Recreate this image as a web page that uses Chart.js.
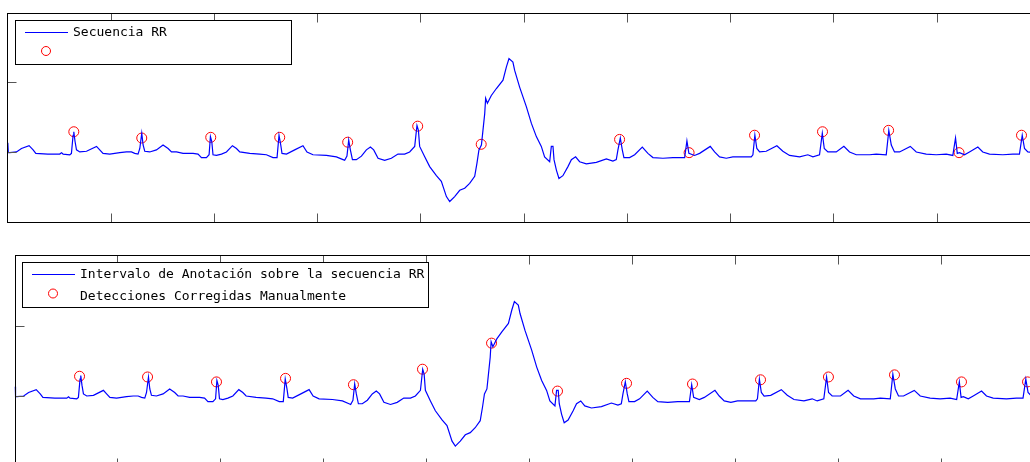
<!DOCTYPE html>
<html>
<head>
<meta charset="utf-8">
<script src="https://cdn.jsdelivr.net/npm/chart.js@4.4.1/dist/chart.umd.min.js"></script>
<style>
    html, body { margin: 0; padding: 0; background: #fff; overflow: hidden; width: 1030px; height: 462px; }
    canvas { position: absolute; left: 0; }
    #graficoSuperior { top: 0; }
    #graficoInferior { top: 240px; }
</style>
</head>
<body>
<canvas id="graficoSuperior" width="1060" height="240"></canvas>
<canvas id="graficoInferior" width="1060" height="240"></canvas>
<script>
// Tiempo (s) y amplitud (mV) del trazo ECG
const tiempo = [
    0.005, 0.010, 0.024, 0.089, 0.137, 0.211, 0.250, 0.276, 0.392, 0.508, 0.525, 0.540, 0.605, 0.621, 0.637, 0.644, 0.656, 0.670, 0.702, 0.767, 0.864, 0.895, 0.927, 0.992, 1.089, 1.154, 1.202, 1.234, 1.266, 1.283, 1.302, 1.315, 1.331, 1.379, 1.444, 1.508, 1.557, 1.590,
    1.638, 1.702, 1.799, 1.847, 1.880, 1.928, 1.954, 1.967, 1.980, 1.992, 2.025, 2.074, 2.122, 2.180, 2.219, 2.251, 2.348, 2.444, 2.509, 2.573, 2.612, 2.631, 2.648, 2.660, 2.703, 2.783, 2.863, 2.902, 2.960, 3.090, 3.187, 3.251,
    3.267, 3.289, 3.306, 3.322, 3.342, 3.380, 3.429, 3.477, 3.516, 3.548, 3.590, 3.654, 3.719, 3.783, 3.848, 3.896, 3.945, 3.967, 3.981, 3.993, 4.042, 4.090, 4.155, 4.203, 4.252, 4.284, 4.332, 4.381, 4.429, 4.477, 4.526, 4.548, 4.567, 4.591, 4.606, 4.623, 4.632, 4.649, 4.687, 4.736, 4.800, 4.833, 4.858, 4.896,
    4.913, 4.961, 5.026, 5.075, 5.123, 5.171, 5.203, 5.252, 5.268, 5.284, 5.294, 5.317, 5.342, 5.380, 5.429, 5.462, 5.503, 5.542, 5.607, 5.704, 5.801, 5.864, 5.897, 5.913, 5.936, 5.955, 5.971, 6.026, 6.075, 6.149, 6.203, 6.252, 6.349, 6.445, 6.542,
    6.559, 6.581, 6.600, 6.655, 6.704, 6.807, 6.849, 6.897, 6.962, 7.026, 7.123, 7.204, 7.220, 7.239, 7.258, 7.285, 7.349, 7.452, 7.510, 7.575, 7.672, 7.752, 7.801, 7.865, 7.892, 7.911, 7.946, 8.027, 8.101, 8.156,
    8.221, 8.350, 8.414, 8.511, 8.536, 8.560, 8.591, 8.640, 8.744, 8.802, 8.898, 8.995, 9.092, 9.156, 9.182, 9.199, 9.221, 9.269, 9.317, 9.398, 9.446, 9.511, 9.640, 9.737, 9.801, 9.828, 9.850, 9.882, 9.947, 9.995
];
const senal = [
    0.13, -0.01, -0.01, 0.00, 0.05, 0.09, 0.03, -0.02, -0.03, -0.03, -0.01, -0.03, -0.04, -0.02, 0.24, 0.29, 0.15, 0.03, 0.00, 0.01, 0.08, 0.03, -0.02, -0.03, -0.01, 0.00, 0.00, -0.02, -0.03, 0.05, 0.27, 0.10, 0.01, 0.00, 0.03, 0.10, 0.05, 0.00,
    0.00, -0.02, -0.02, -0.03, -0.08, -0.08, -0.04, 0.22, 0.15, -0.04, -0.05, -0.03, 0.00, 0.09, 0.05, 0.00, -0.02, -0.03, -0.04, -0.08, -0.08, 0.24, 0.10, -0.02, -0.03, 0.03, 0.09, 0.00, -0.04, -0.05, -0.07, -0.11,
    -0.12, -0.06, 0.17, 0.03, -0.11, -0.11, -0.06, 0.03, 0.07, 0.03, -0.09, -0.12, -0.09, -0.03, -0.03, 0.00, 0.08, 0.38, 0.31, 0.08, -0.07, -0.21, -0.34, -0.42, -0.64, -0.71, -0.64, -0.55, -0.52, -0.45, -0.35, -0.16, 0.03, 0.10, 0.31, 0.55, 0.77, 0.70, 0.81, 0.91, 1.03, 1.22, 1.34, 1.29,
    1.17, 0.93, 0.65, 0.41, 0.22, 0.08, -0.07, -0.14, 0.08, 0.08, -0.11, -0.26, -0.38, -0.34, -0.21, -0.11, -0.07, -0.14, -0.17, -0.15, -0.10, -0.13, -0.11, 0.03, 0.20, 0.03, -0.08, -0.08, -0.04, 0.07, -0.02, -0.08, -0.09, -0.08, -0.08,
    -0.08, 0.16, -0.02, -0.05, -0.02, 0.08, 0.00, -0.07, -0.09, -0.07, -0.07, -0.07, -0.04, 0.24, 0.05, 0.00, 0.01, 0.09, 0.01, -0.05, -0.07, -0.04, -0.07, -0.04, 0.27, 0.05, 0.00, 0.00, 0.08, 0.00,
    -0.04, -0.04, -0.03, -0.04, 0.31, 0.10, 0.00, 0.00, 0.08, 0.00, -0.03, -0.04, -0.03, -0.05, 0.20, -0.02, -0.01, -0.04, 0.00, 0.07, 0.00, -0.03, -0.04, -0.03, -0.03, 0.24, 0.05, 0.00, -0.01, -0.01
];

// Detecciones automaticas (panel superior)
const tiempoDetecciones = [0.644, 1.302, 1.970, 2.638, 3.296, 3.974, 4.589, 5.929, 6.602, 7.236, 7.894, 8.534, 9.216, 9.821];
const amplitudDetecciones = [0.29, 0.20, 0.21, 0.21, 0.14, 0.37, 0.11, 0.18, -0.01, 0.24, 0.29, 0.31, -0.01, 0.24];

// Detecciones corregidas manualmente (panel inferior)
const tiempoCorregidas = [0.632, 1.293, 1.963, 2.634, 3.294, 3.965, 4.636, 5.277, 5.948, 6.589, 7.250, 7.910, 8.552, 9.203, 9.845];
const amplitudCorregidas = [0.28, 0.27, 0.20, 0.25, 0.16, 0.38, 0.75, 0.07, 0.18, 0.17, 0.23, 0.27, 0.30, 0.20, 0.20];

const ticksX = [0, 1, 2, 3, 4, 5, 6, 7, 8, 9, 10];
const ticksY = [-1, 0, 1, 2];

function pares(xs, ys) {
    const n = Math.min(xs.length, ys.length);
    const out = [];
    for (let i = 0; i < n; i++) out.push({ x: xs[i], y: ys[i] });
    return out;
}

function linea(ctx, x1, y1, x2, y2) {
    ctx.beginPath();
    ctx.moveTo(x1, y1);
    ctx.lineTo(x2, y2);
    ctx.stroke();
}

// Marco y marcas de los ejes hacia dentro (estilo MATLAB)
const marcoEjes = {
    id: 'marcoEjes',
    afterDatasetsDraw(chart) {
        const { ctx, chartArea: a, scales } = chart;
        const l = Math.round(a.left) + 0.5, r = Math.round(a.right) + 0.5;
        const t = Math.round(a.top) + 0.5, b = Math.round(a.bottom) + 0.5;
        ctx.save();
        ctx.lineWidth = 1;
        ctx.strokeStyle = '#555';
        ticksX.forEach(v => {
            const x = Math.round(scales.x.getPixelForValue(v)) + 0.5;
            linea(ctx, x, t, x, t + 9);
            linea(ctx, x, b, x, b - 9);
        });
        ticksY.forEach(v => {
            const y = Math.round(scales.y.getPixelForValue(v)) + 0.5;
            linea(ctx, l, y, l + 9, y);
            linea(ctx, r, y, r - 9, y);
        });
        ctx.strokeStyle = '#000';
        ctx.strokeRect(l, t, r - l, b - t);
        ctx.restore();
    }
};

// Leyenda en caja dentro del area del grafico
const leyendaCaja = {
    id: 'leyendaCaja',
    afterDraw(chart, args, o) {
        const ctx = chart.ctx;
        const ds = chart.data.datasets;
        ctx.save();
        ctx.fillStyle = '#fff';
        ctx.fillRect(o.x, o.y, o.w, o.h);
        ctx.lineWidth = 1;
        ctx.strokeStyle = '#000';
        ctx.strokeRect(o.x + 0.5, o.y + 0.5, o.w, o.h);
        ctx.font = '13px "DejaVu Sans Mono"';
        ctx.textBaseline = 'middle';
        ctx.fillStyle = '#000';

        const y1 = o.y + o.fila1;
        ctx.strokeStyle = ds[0].borderColor;
        linea(ctx, o.x + 10, y1, o.x + 53, y1);
        ctx.fillText(ds[0].label, o.x + 58, y1);

        ctx.strokeStyle = ds[1].borderColor;
        ctx.beginPath();
        ctx.arc(o.x + 31, o.y + o.filaCirculo, 4.5, 0, 2 * Math.PI);
        ctx.stroke();
        if (ds[1].label) ctx.fillText(ds[1].label, o.x + 58, o.y + o.filaTexto);
        ctx.restore();
    }
};

function crearGrafico(id, etiquetaLinea, etiquetaMarcas, marcas, padding, leyenda) {
    const ctx = document.getElementById(id).getContext('2d');
    return new Chart(ctx, {
        type: 'line',
        data: {
            datasets: [
                {
                    label: etiquetaLinea,
                    data: pares(tiempo, senal),
                    borderColor: '#0000ff',
                    borderWidth: 1.2,
                    pointRadius: 0,
                    tension: 0,
                    fill: false,
                },
                {
                    label: etiquetaMarcas,
                    data: marcas,
                    showLine: false,
                    borderColor: '#ff0000',
                    backgroundColor: 'rgba(0,0,0,0)',
                    borderWidth: 1,
                    pointRadius: 5,
                    pointStyle: 'circle',
                },
            ],
        },
        options: {
            responsive: false,
            animation: false,
            events: [],
            layout: { padding: padding },
            scales: {
                x: { type: 'linear', min: 0, max: 10, display: false },
                y: { type: 'linear', min: -1, max: 2, display: false },
            },
            plugins: {
                legend: { display: false },
                tooltip: { enabled: false },
                leyendaCaja: leyenda,
            },
        },
        plugins: [marcoEjes, leyendaCaja],
    });
}

crearGrafico('graficoSuperior', 'Secuencia RR', '',
    pares(tiempoDetecciones, amplitudDetecciones),
    { left: 7.3, top: 12.5, right: 20, bottom: 18.3 },
    { x: 15, y: 20, w: 276, h: 44, fila1: 12.5, filaCirculo: 31, filaTexto: 31 });

crearGrafico('graficoInferior', 'Intervalo de Anotación sobre la secuencia RR', 'Detecciones Corregidas Manualmente',
    pares(tiempoCorregidas, amplitudCorregidas),
    { left: 14.5, top: 15, right: 16.5, bottom: 13.5 },
    { x: 22, y: 22, w: 406, h: 45, fila1: 12.5, filaCirculo: 31.5, filaTexto: 35 });
</script>
</body>
</html>
